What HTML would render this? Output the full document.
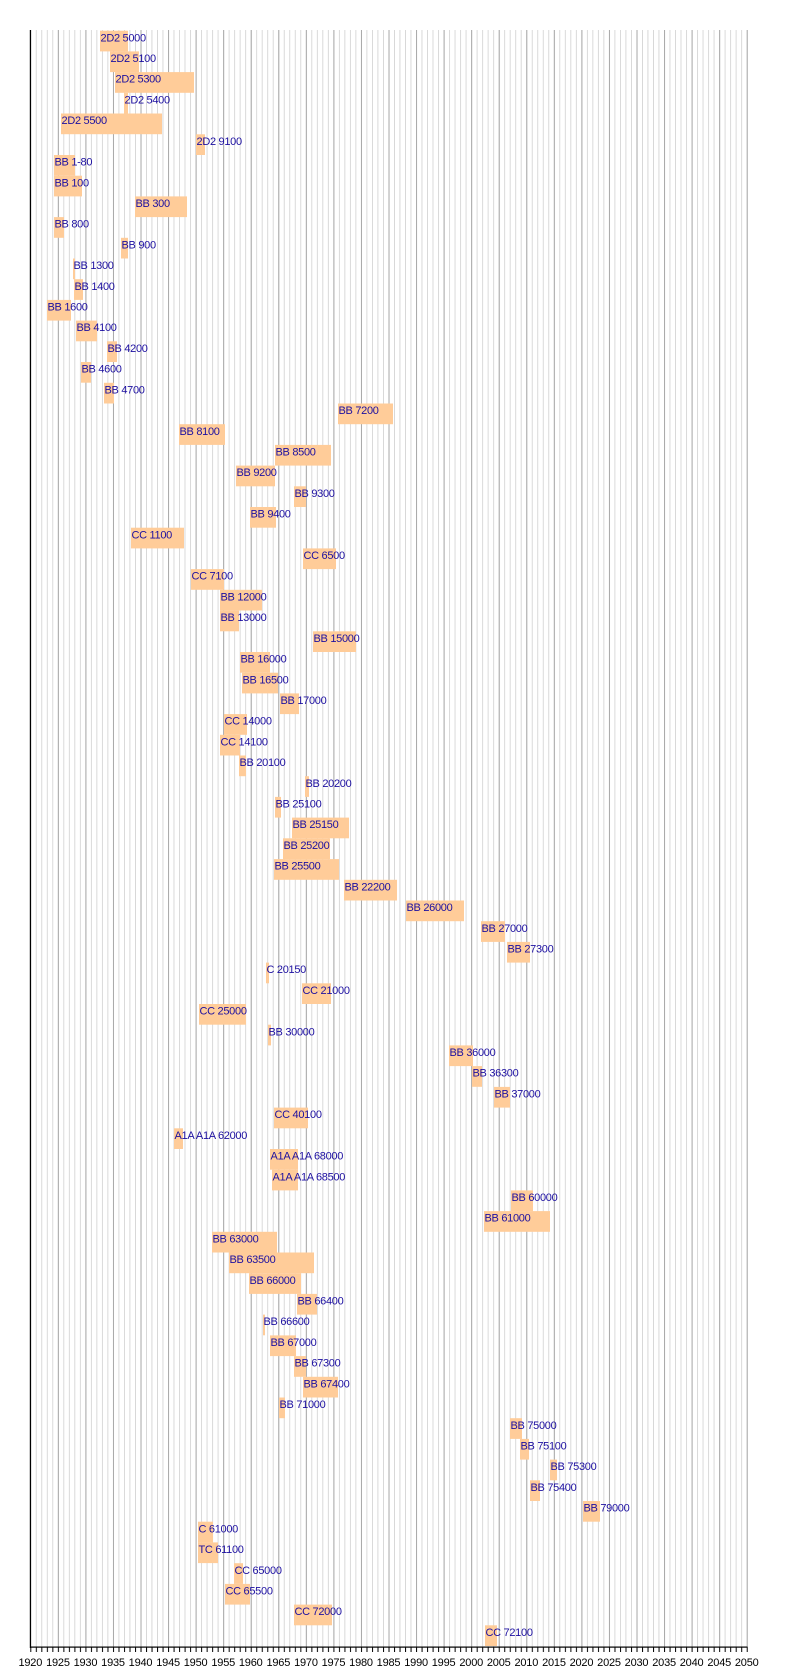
<!DOCTYPE html>
<html><head><meta charset="utf-8"><style>
html,body{margin:0;padding:0;background:#fff}
svg{display:block}
text{font-family:"Liberation Sans",Arial,sans-serif}
.l{font-size:11px;fill:#1c0fa0;letter-spacing:-0.3px}
.t{font-size:11px;fill:#000;text-anchor:middle;letter-spacing:-0.2px}
</style></head><body>
<svg width="800" height="1677" viewBox="0 0 800 1677" xmlns="http://www.w3.org/2000/svg">
<defs>
<pattern id="minor" patternUnits="userSpaceOnUse" x="30.3" y="0" width="5.511" height="10">
<rect x="0" y="0" width="0.8" height="10" fill="#d0d0d0"/></pattern>
<pattern id="major" patternUnits="userSpaceOnUse" x="30.3" y="0" width="27.555" height="10">
<rect x="0" y="0" width="1" height="10" fill="#a8a8a8"/></pattern>
<pattern id="tick" patternUnits="userSpaceOnUse" x="30.3" y="0" width="5.511" height="10">
<rect x="0" y="0" width="1" height="10" fill="#000"/></pattern>
</defs>
<rect x="30" y="30" width="718" height="1617" fill="url(#minor)"/>
<rect x="30" y="30" width="718" height="1617" fill="url(#major)"/>
<g fill="#ffcc99" id="bars"></g>
<g id="rows">
<rect x="100" y="30.7" width="28" height="20.7" fill="#ffcc99"/><text class="l" x="100.5" y="41.3">2D2 5000</text>
<rect x="110" y="51.4" width="29" height="20.7" fill="#ffcc99"/><text class="l" x="110.5" y="62">2D2 5100</text>
<rect x="115" y="72.1" width="79" height="20.7" fill="#ffcc99"/><text class="l" x="115.5" y="82.7">2D2 5300</text>
<rect x="124" y="92.8" width="4" height="20.7" fill="#ffcc99"/><text class="l" x="124.5" y="103.4">2D2 5400</text>
<rect x="61" y="113.5" width="101" height="20.7" fill="#ffcc99"/><text class="l" x="61.5" y="124.1">2D2 5500</text>
<rect x="196" y="134.3" width="9" height="20.7" fill="#ffcc99"/><text class="l" x="196.5" y="144.9">2D2 9100</text>
<rect x="54" y="155" width="21" height="20.7" fill="#ffcc99"/><text class="l" x="54.5" y="165.6">BB 1-80</text>
<rect x="54" y="175.7" width="28" height="20.7" fill="#ffcc99"/><text class="l" x="54.5" y="186.3">BB 100</text>
<rect x="135" y="196.4" width="52" height="20.7" fill="#ffcc99"/><text class="l" x="135.5" y="207">BB 300</text>
<rect x="54" y="217.1" width="10" height="20.7" fill="#ffcc99"/><text class="l" x="54.5" y="227.7">BB 800</text>
<rect x="121" y="237.8" width="7" height="20.7" fill="#ffcc99"/><text class="l" x="121.5" y="248.4">BB 900</text>
<rect x="73" y="258.5" width="2" height="20.7" fill="#ffcc99"/><text class="l" x="73.5" y="269.1">BB 1300</text>
<rect x="74" y="279.2" width="9" height="20.7" fill="#ffcc99"/><text class="l" x="74.5" y="289.8">BB 1400</text>
<rect x="47" y="299.9" width="24" height="20.7" fill="#ffcc99"/><text class="l" x="47.5" y="310.5">BB 1600</text>
<rect x="76" y="320.6" width="21" height="20.7" fill="#ffcc99"/><text class="l" x="76.5" y="331.2">BB 4100</text>
<rect x="107" y="341.3" width="10" height="20.7" fill="#ffcc99"/><text class="l" x="107.5" y="351.9">BB 4200</text>
<rect x="81" y="362" width="10" height="20.7" fill="#ffcc99"/><text class="l" x="81.5" y="372.6">BB 4600</text>
<rect x="104" y="382.8" width="10" height="20.7" fill="#ffcc99"/><text class="l" x="104.5" y="393.4">BB 4700</text>
<rect x="338" y="403.5" width="55" height="20.7" fill="#ffcc99"/><text class="l" x="338.5" y="414.1">BB 7200</text>
<rect x="179" y="424.2" width="46" height="20.7" fill="#ffcc99"/><text class="l" x="179.5" y="434.8">BB 8100</text>
<rect x="275" y="444.9" width="56" height="20.7" fill="#ffcc99"/><text class="l" x="275.5" y="455.5">BB 8500</text>
<rect x="236" y="465.6" width="39" height="20.7" fill="#ffcc99"/><text class="l" x="236.5" y="476.2">BB 9200</text>
<rect x="294" y="486.3" width="12" height="20.7" fill="#ffcc99"/><text class="l" x="294.5" y="496.9">BB 9300</text>
<rect x="250" y="507" width="26" height="20.7" fill="#ffcc99"/><text class="l" x="250.5" y="517.6">BB 9400</text>
<rect x="131" y="527.7" width="53" height="20.7" fill="#ffcc99"/><text class="l" x="131.5" y="538.3">CC 1100</text>
<rect x="303" y="548.4" width="33" height="20.7" fill="#ffcc99"/><text class="l" x="303.5" y="559">CC 6500</text>
<rect x="191" y="569.1" width="33" height="20.7" fill="#ffcc99"/><text class="l" x="191.5" y="579.7">CC 7100</text>
<rect x="220" y="589.8" width="42" height="20.7" fill="#ffcc99"/><text class="l" x="220.5" y="600.4">BB 12000</text>
<rect x="220" y="610.6" width="19" height="20.7" fill="#ffcc99"/><text class="l" x="220.5" y="621.2">BB 13000</text>
<rect x="313" y="631.3" width="43" height="20.7" fill="#ffcc99"/><text class="l" x="313.5" y="641.9">BB 15000</text>
<rect x="240" y="652" width="30" height="20.7" fill="#ffcc99"/><text class="l" x="240.5" y="662.6">BB 16000</text>
<rect x="242" y="672.7" width="36" height="20.7" fill="#ffcc99"/><text class="l" x="242.5" y="683.3">BB 16500</text>
<rect x="280" y="693.4" width="19" height="20.7" fill="#ffcc99"/><text class="l" x="280.5" y="704">BB 17000</text>
<rect x="224" y="714.1" width="23" height="20.7" fill="#ffcc99"/><text class="l" x="224.5" y="724.7">CC 14000</text>
<rect x="220" y="734.8" width="20" height="20.7" fill="#ffcc99"/><text class="l" x="220.5" y="745.4">CC 14100</text>
<rect x="239" y="755.5" width="7" height="20.7" fill="#ffcc99"/><text class="l" x="239.5" y="766.1">BB 20100</text>
<rect x="305" y="776.2" width="4" height="20.7" fill="#ffcc99"/><text class="l" x="305.5" y="786.8">BB 20200</text>
<rect x="275" y="796.9" width="6" height="20.7" fill="#ffcc99"/><text class="l" x="275.5" y="807.5">BB 25100</text>
<rect x="292" y="817.6" width="57" height="20.7" fill="#ffcc99"/><text class="l" x="292.5" y="828.2">BB 25150</text>
<rect x="283" y="838.3" width="47" height="20.7" fill="#ffcc99"/><text class="l" x="283.5" y="848.9">BB 25200</text>
<rect x="274" y="859.1" width="65" height="20.7" fill="#ffcc99"/><text class="l" x="274.5" y="869.7">BB 25500</text>
<rect x="344" y="879.8" width="53" height="20.7" fill="#ffcc99"/><text class="l" x="344.5" y="890.4">BB 22200</text>
<rect x="406" y="900.5" width="58" height="20.7" fill="#ffcc99"/><text class="l" x="406.5" y="911.1">BB 26000</text>
<rect x="481" y="921.2" width="24" height="20.7" fill="#ffcc99"/><text class="l" x="481.5" y="931.8">BB 27000</text>
<rect x="507" y="941.9" width="23" height="20.7" fill="#ffcc99"/><text class="l" x="507.5" y="952.5">BB 27300</text>
<rect x="266" y="962.6" width="3" height="20.7" fill="#ffcc99"/><text class="l" x="266.5" y="973.2">C 20150</text>
<rect x="302" y="983.3" width="29" height="20.7" fill="#ffcc99"/><text class="l" x="302.5" y="993.9">CC 21000</text>
<rect x="199" y="1004" width="47" height="20.7" fill="#ffcc99"/><text class="l" x="199.5" y="1014.6">CC 25000</text>
<rect x="268" y="1024.7" width="3" height="20.7" fill="#ffcc99"/><text class="l" x="268.5" y="1035.3">BB 30000</text>
<rect x="449" y="1045.4" width="24" height="20.7" fill="#ffcc99"/><text class="l" x="449.5" y="1056">BB 36000</text>
<rect x="472" y="1066.1" width="10" height="20.7" fill="#ffcc99"/><text class="l" x="472.5" y="1076.7">BB 36300</text>
<rect x="494" y="1086.9" width="16" height="20.7" fill="#ffcc99"/><text class="l" x="494.5" y="1097.5">BB 37000</text>
<rect x="274" y="1107.6" width="34" height="20.7" fill="#ffcc99"/><text class="l" x="274.5" y="1118.2">CC 40100</text>
<rect x="174" y="1128.3" width="9" height="20.7" fill="#ffcc99"/><text class="l" x="174.5" y="1138.9">A1A A1A 62000</text>
<rect x="270" y="1149" width="28" height="20.7" fill="#ffcc99"/><text class="l" x="270.5" y="1159.6">A1A A1A 68000</text>
<rect x="272" y="1169.7" width="26" height="20.7" fill="#ffcc99"/><text class="l" x="272.5" y="1180.3">A1A A1A 68500</text>
<rect x="511" y="1190.4" width="22" height="20.7" fill="#ffcc99"/><text class="l" x="511.5" y="1201">BB 60000</text>
<rect x="484" y="1211.1" width="66" height="20.7" fill="#ffcc99"/><text class="l" x="484.5" y="1221.7">BB 61000</text>
<rect x="212" y="1231.8" width="65" height="20.7" fill="#ffcc99"/><text class="l" x="212.5" y="1242.4">BB 63000</text>
<rect x="229" y="1252.5" width="85" height="20.7" fill="#ffcc99"/><text class="l" x="229.5" y="1263.1">BB 63500</text>
<rect x="249" y="1273.2" width="52" height="20.7" fill="#ffcc99"/><text class="l" x="249.5" y="1283.8">BB 66000</text>
<rect x="297" y="1293.9" width="20" height="20.7" fill="#ffcc99"/><text class="l" x="297.5" y="1304.5">BB 66400</text>
<rect x="263" y="1314.6" width="2" height="20.7" fill="#ffcc99"/><text class="l" x="263.5" y="1325.2">BB 66600</text>
<rect x="270" y="1335.4" width="26" height="20.7" fill="#ffcc99"/><text class="l" x="270.5" y="1346">BB 67000</text>
<rect x="294" y="1356.1" width="12" height="20.7" fill="#ffcc99"/><text class="l" x="294.5" y="1366.7">BB 67300</text>
<rect x="303" y="1376.8" width="35" height="20.7" fill="#ffcc99"/><text class="l" x="303.5" y="1387.4">BB 67400</text>
<rect x="279" y="1397.5" width="6" height="20.7" fill="#ffcc99"/><text class="l" x="279.5" y="1408.1">BB 71000</text>
<rect x="510" y="1418.2" width="12" height="20.7" fill="#ffcc99"/><text class="l" x="510.5" y="1428.8">BB 75000</text>
<rect x="520" y="1438.9" width="9" height="20.7" fill="#ffcc99"/><text class="l" x="520.5" y="1449.5">BB 75100</text>
<rect x="550" y="1459.6" width="7" height="20.7" fill="#ffcc99"/><text class="l" x="550.5" y="1470.2">BB 75300</text>
<rect x="530" y="1480.3" width="10" height="20.7" fill="#ffcc99"/><text class="l" x="530.5" y="1490.9">BB 75400</text>
<rect x="583" y="1501" width="17" height="20.7" fill="#ffcc99"/><text class="l" x="583.5" y="1511.6">BB 79000</text>
<rect x="198" y="1521.7" width="15" height="20.7" fill="#ffcc99"/><text class="l" x="198.5" y="1532.3">C 61000</text>
<rect x="198" y="1542.4" width="20" height="20.7" fill="#ffcc99"/><text class="l" x="198.5" y="1553">TC 61100</text>
<rect x="234" y="1563.2" width="9" height="20.7" fill="#ffcc99"/><text class="l" x="234.5" y="1573.8">CC 65000</text>
<rect x="225" y="1583.9" width="25" height="20.7" fill="#ffcc99"/><text class="l" x="225.5" y="1594.5">CC 65500</text>
<rect x="294" y="1604.6" width="38" height="20.7" fill="#ffcc99"/><text class="l" x="294.5" y="1615.2">CC 72000</text>
<rect x="485" y="1625.3" width="12" height="20.7" fill="#ffcc99"/><text class="l" x="485.5" y="1635.9">CC 72100</text>
</g>
<rect x="29.8" y="30" width="1.2" height="1618" fill="#000"/>
<rect x="30" y="1646.5" width="717.5" height="1.2" fill="#000"/>
<rect x="30" y="1647" width="718" height="5" fill="url(#tick)"/>
<g class="t">
<text class="t" x="30.3" y="1666">1920</text>
<text class="t" x="57.9" y="1666">1925</text>
<text class="t" x="85.4" y="1666">1930</text>
<text class="t" x="113" y="1666">1935</text>
<text class="t" x="140.5" y="1666">1940</text>
<text class="t" x="168.1" y="1666">1945</text>
<text class="t" x="195.6" y="1666">1950</text>
<text class="t" x="223.2" y="1666">1955</text>
<text class="t" x="250.7" y="1666">1960</text>
<text class="t" x="278.3" y="1666">1965</text>
<text class="t" x="305.9" y="1666">1970</text>
<text class="t" x="333.4" y="1666">1975</text>
<text class="t" x="361" y="1666">1980</text>
<text class="t" x="388.5" y="1666">1985</text>
<text class="t" x="416.1" y="1666">1990</text>
<text class="t" x="443.6" y="1666">1995</text>
<text class="t" x="471.2" y="1666">2000</text>
<text class="t" x="498.7" y="1666">2005</text>
<text class="t" x="526.3" y="1666">2010</text>
<text class="t" x="553.9" y="1666">2015</text>
<text class="t" x="581.4" y="1666">2020</text>
<text class="t" x="609" y="1666">2025</text>
<text class="t" x="636.5" y="1666">2030</text>
<text class="t" x="664.1" y="1666">2035</text>
<text class="t" x="691.6" y="1666">2040</text>
<text class="t" x="719.2" y="1666">2045</text>
<text class="t" x="746.7" y="1666">2050</text>
</g>
</svg>
</body></html>
